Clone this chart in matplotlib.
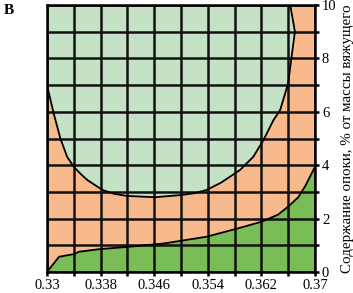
import numpy as np
import matplotlib.pyplot as plt

plt.rcParams['font.family'] = ['Liberation Serif', 'DejaVu Serif']

# upper boundary (light green / orange)
upper_x = [0.33, 0.331, 0.332, 0.333, 0.334, 0.335, 0.336, 0.3372, 0.3383, 0.34, 0.3419, 0.3461,
           0.3499, 0.352, 0.3538, 0.356, 0.3588, 0.3608, 0.3623, 0.3638, 0.3648, 0.366,
           0.3665, 0.367, 0.3663]
upper_y = [7.0, 5.94, 5.0, 4.32, 3.94, 3.68, 3.45, 3.25, 3.07, 2.93, 2.85, 2.8,
           2.88, 2.95, 3.07, 3.35, 3.82, 4.32, 4.94, 5.69, 6.07, 7.07,
           8.06, 9.0, 10.0]

# lower boundary (orange / dark green)
lower_x = [0.33, 0.3318, 0.334, 0.3348, 0.338, 0.3425, 0.3475, 0.3538, 0.358, 0.362,
           0.3645, 0.366, 0.3675, 0.3685, 0.37]
lower_y = [0.0, 0.57, 0.67, 0.76, 0.86, 0.95, 1.07, 1.32, 1.6, 1.88,
           2.15, 2.45, 2.8, 3.2, 3.94]

x_ticks = [0.33, 0.334, 0.338, 0.342, 0.346, 0.35, 0.354, 0.358, 0.362, 0.366, 0.37]
x_labels = ['0.33', '', '0.338', '', '0.346', '', '0.354', '', '0.362', '', '0.37']
y_ticks = list(range(0, 11))
y_labels = [str(v) if v % 2 == 0 else '' for v in y_ticks]

light_green = '#c5e2c6'
orange = '#f8b98c'
dark_green = '#78bd55'

fig = plt.figure(figsize=(3.53, 2.93), dpi=100)
ax = fig.add_axes([0.1331, 0.0717, 0.7593, 0.9112])
ax.set_facecolor(orange)

# light green region inside the U
ax.fill(upper_x + [0.33], upper_y + [10.0], color=light_green, lw=0, zorder=1)
ax.fill_between(lower_x, 0, lower_y, color=dark_green, lw=0, zorder=1)
ax.plot(upper_x, upper_y, color='black', lw=1.3, zorder=3)
ax.plot(lower_x, lower_y, color='black', lw=1.3, zorder=3)

ax.set_xlim(0.33, 0.37)
ax.set_ylim(0, 10)
ax.set_xticks(x_ticks)
ax.set_xticklabels(x_labels)
ax.set_yticks(y_ticks)
ax.set_yticklabels(y_labels)
ax.yaxis.tick_right()
ax.yaxis.set_label_position('right')
ax.grid(True, color='#111111', lw=1.8, zorder=2)
ax.set_axisbelow(False)
for s in ax.spines.values():
    s.set_linewidth(1.8)
    s.set_zorder(4)
ax.tick_params(direction='out', length=3, width=1.8, labelsize=10.5, pad=2)
ax.set_ylabel('Содержание опоки, % от массы вяжущего', fontsize=10.8, labelpad=3)

fig.text(0.012, 0.985, 'В', fontsize=11, fontweight='bold', va='top', ha='left')

fig.savefig('out.png', dpi=100)
